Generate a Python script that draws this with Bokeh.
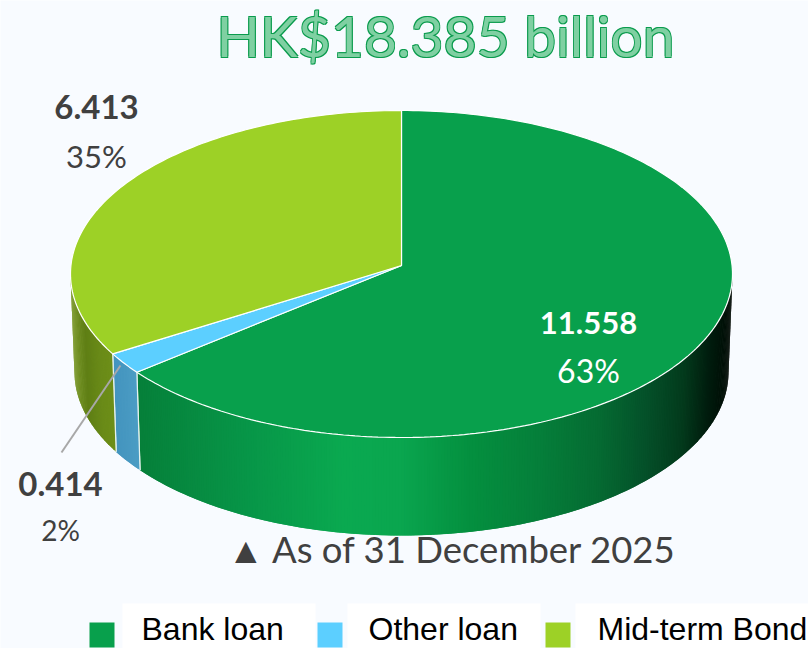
import math
from bokeh.plotting import figure
from bokeh.embed import file_html
from bokeh.resources import INLINE
from bokeh.core.properties import value

title_text = "HK$18.385 billion"
note_text = "▲ As of 31 December 2025"
categories = ["Bank loan", "Other loan", "Mid-term Bond"]
amounts = [11.558, 0.414, 6.413]
percents = [63, 2, 35]
colors = ["#08a04c", "#5ccfff", "#9dd126"]

# wall shading: colour stops along the horizontal axis
wall_ramps = [
    [(135, "#067f39"), (240, "#079447"), (345, "#0aa950"), (400, "#0aa64f"), (470, "#04903f"),
     (540, "#057f3a"), (600, "#056b32"), (645, "#04522a"), (685, "#033a1c"), (710, "#011d0e"), (732, "#000a04")],
    [(110, "#4293bd"), (125, "#4798c1"), (142, "#4d9fc6")],
    [(68, "#7f9c2c"), (85, "#5f7f15"), (100, "#6a8b18"), (118, "#6f9019")],
]

CX, CY, HUB_Y, RX, RY = 401, 273.5, 265, 331, 163.5
BOTTOM_RX, DEPTH = 327, 98
MIDDLE_SHIFT = 0.40


def hex2rgb(c):
    return [int(c[i:i + 2], 16) for i in (1, 3, 5)]


def ramp(stops, x):
    if x <= stops[0][0]:
        return stops[0][1]
    for (x0, c0), (x1, c1) in zip(stops, stops[1:]):
        if x <= x1:
            f = (x - x0) / (x1 - x0)
            a, b = hex2rgb(c0), hex2rgb(c1)
            return "#%02x%02x%02x" % tuple(round(p + (q - p) * f) for p, q in zip(a, b))
    return stops[-1][1]


def warp(t):  # perspective of the tilted pie
    return t + 8 * math.sin(math.radians(t / 2)) ** 2


def top(phi):
    r = math.radians(phi)
    return CX + RX * math.sin(r), CY - RY * math.cos(r)


def bottom(phi):
    r = math.radians(phi)
    return CX + BOTTOM_RX * math.sin(r), CY + DEPTH - RY * math.cos(r)


p = figure(width=808, height=648, x_range=(0, 808), y_range=(648, 0), output_backend="svg",
           toolbar_location=None, min_border=0, background_fill_color="#f8fbff", border_fill_color="#f8fbff",
           outline_line_color=None)
p.axis.visible = False
p.grid.visible = False

total = sum(amounts)
edges = [0]
for a in amounts:
    edges.append(edges[-1] + a / total * 360)

# side wall
for i in range(len(amounts)):
    a0, a1 = max(warp(edges[i]), 90), min(warp(edges[i + 1]), 270)
    if a1 <= a0:
        continue
    n = max(2, int((a1 - a0) / 0.5))
    xs, ys, cs = [], [], []
    for k in range(n):
        f0, f1 = a0 + (a1 - a0) * k / n, min(a1, a0 + (a1 - a0) * (k + 2) / n)
        t0, t1, b0, b1 = top(f0), top(f1), bottom(f0), bottom(f1)
        xs.append([t0[0], t1[0], b1[0], b0[0]])
        ys.append([t0[1], t1[1], b1[1], b0[1]])
        cs.append(ramp(wall_ramps[i], t0[0]))
    p.patches(xs, ys, fill_color=cs, line_color=None)
    for a in (a0, a1):
        if 90 < a < 270:
            t, b = top(a), bottom(a)
            p.line([t[0], b[0]], [t[1], b[1]], line_color="#e6f2ee", line_width=1.2)

# top face
for i in range(len(amounts)):
    a0, a1 = warp(edges[i]), warp(edges[i + 1])
    n = max(4, int((a1 - a0)))
    pts = [top(a0 + (a1 - a0) * k / n) for k in range(n + 1)]
    p.patch([CX] + [q[0] for q in pts], [HUB_Y] + [q[1] for q in pts], fill_color=colors[i],
            line_color="#ffffff", line_width=1.2)


# data labels
def label(x, y, txt, size, color, bold=False, font="Lato", align="center"):
    p.text([x], [y - MIDDLE_SHIFT * size], text=[txt], text_font=value(font), text_font_size=f"{size}px",
           text_color=color, text_align=align, text_baseline="middle",
           text_font_style="bold" if bold else "normal")


label(96, 120, f"{amounts[2]:.3f}", 33, "#404040", True)
label(96, 168, f"{percents[2]}%", 31, "#404040")
label(588, 335, f"{amounts[0]:.3f}", 31, "#ffffff", True)
label(588, 383, f"{percents[0]}%", 32, "#ffffff")
label(60, 497, f"{amounts[1]:.3f}", 33, "#404040", True)
label(60, 541, f"{percents[1]}%", 28, "#404040")
p.line([120, 61], [365, 452], line_color="#a8a8a8", line_width=2)

# title (outlined lettering) and note
for dx, dy in [(-0.9, -0.9), (0.9, -0.9), (-0.9, 0.9), (0.9, 0.9)]:
    label(445 + dx, 57 + dy, title_text, 57, "#0a9b4d")
label(445, 57, title_text, 57, "#7fd0a2")
label(452, 563, note_text, 36.5, "#404040")

# legend
p.quad(left=[122, 347, 575], right=[315, 540, 808], top=[603, 603, 603], bottom=[648, 648, 648],
       fill_color="#ffffff", line_color=None)
p.quad(left=[89, 317, 545], right=[114, 342, 570], top=[622, 622, 622], bottom=[647, 647, 647],
       fill_color=colors, line_color=None)
for x, c in zip([141, 368, 597], categories):
    label(x, 641, c, 32, "#000000", font="Liberation Sans", align="left")

open("out.html", "w").write(file_html(p, INLINE))
